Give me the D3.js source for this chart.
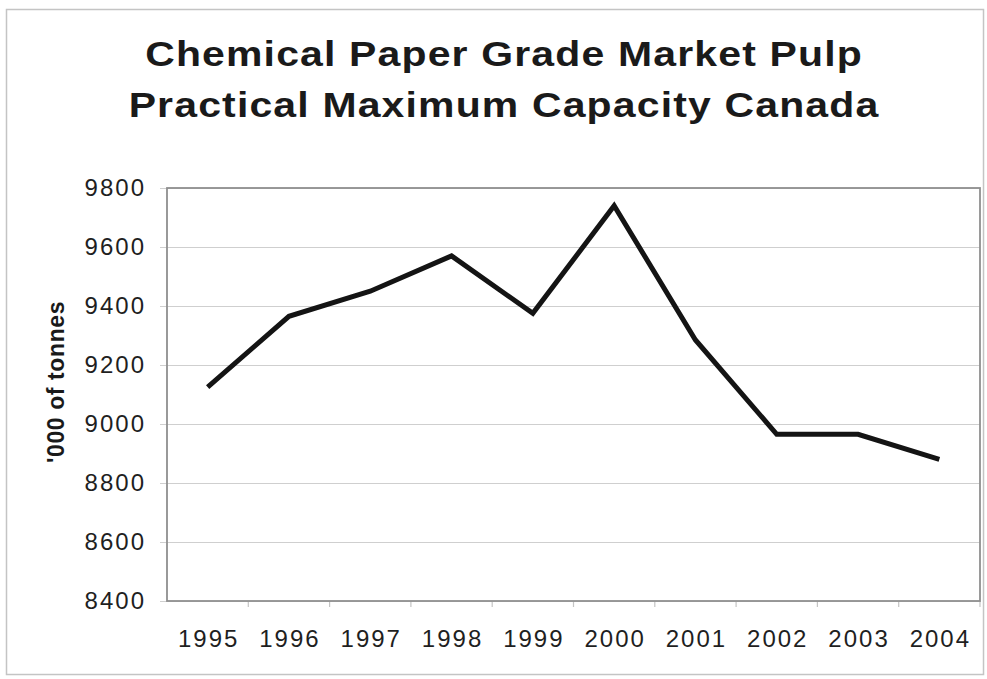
<!DOCTYPE html>
<html>
<head>
<meta charset="utf-8">
<script src="https://cdn.jsdelivr.net/npm/d3@7"></script>
<style>
  html, body { margin: 0; padding: 0; background: #ffffff; }
  svg { display: block; }
</style>
</head>
<body>
<div id="chart"></div>
<script>
// Chart content
const titleLines = ["Chemical Paper Grade Market Pulp", "Practical Maximum Capacity Canada"];
const yAxisTitle = "'000 of tonnes";
const years = ["1995", "1996", "1997", "1998", "1999", "2000", "2001", "2002", "2003", "2004"];
const capacity = [9125, 9365, 9450, 9570, 9375, 9740, 9285, 8965, 8965, 8880];
const yTicks = [8400, 8600, 8800, 9000, 9200, 9400, 9600, 9800];

const W = 987, H = 679;
const plot = { left: 167, right: 980, top: 188, bottom: 601 };
const fontFamily = "'Liberation Sans', Arial, Helvetica, sans-serif";

const svg = d3.select("#chart").append("svg")
  .attr("width", W).attr("height", H);

// outer frame
svg.append("rect")
  .attr("x", 6.5).attr("y", 9.5)
  .attr("width", 977).attr("height", 665)
  .attr("fill", "#ffffff")
  .attr("stroke", "#c4c4c4").attr("stroke-width", 1.5);

const x = d3.scaleBand().domain(years).range([plot.left, plot.right]).padding(0);
const y = d3.scaleLinear().domain([8400, 9800]).range([plot.bottom, plot.top]);

// title, set in a slightly widened bold face
svg.append("g")
  .attr("transform", "translate(504,66) scale(1.17,1)")
  .append("text")
  .attr("text-anchor", "middle")
  .style("font-family", fontFamily)
  .style("font-weight", "bold")
  .style("font-size", "35px")
  .style("letter-spacing", "1px")
  .attr("fill", "#1a1a1a")
  .selectAll("tspan").data(titleLines).join("tspan")
  .attr("x", 0)
  .attr("dy", (d, i) => i === 0 ? 0 : 51)
  .text(d => d);

// value axis: gridlines that start at a short outside tick mark
const yAxis = d3.axisLeft(y).tickValues(yTicks)
  .tickSize(0)
  .tickPadding(20)
  .tickFormat(d3.format("d"));

const gy = svg.append("g")
  .attr("transform", `translate(${plot.left - 7},0)`)
  .call(yAxis);
gy.select(".domain").remove();
gy.selectAll(".tick line")
  .attr("x1", 0).attr("x2", plot.right - plot.left + 7)
  .attr("stroke", "#cfcfcf").attr("stroke-width", 1.2);
gy.selectAll(".tick text")
  .attr("x", -14)
  .style("font-family", fontFamily)
  .style("font-size", "24px")
  .style("letter-spacing", "2px")
  .attr("fill", "#1f1f1f");

// category axis: tick marks at band boundaries, labels at band centres
const gx = svg.append("g")
  .attr("transform", `translate(0,${plot.bottom})`);
gx.selectAll("line.btick")
  .data(years)
  .join("line")
  .attr("class", "btick")
  .attr("x1", d => x(d) + x.bandwidth())
  .attr("x2", d => x(d) + x.bandwidth())
  .attr("y1", 0).attr("y2", 6)
  .attr("stroke", "#c4c4c4").attr("stroke-width", 1.2);
gx.selectAll("text.year")
  .data(years).join("text")
  .attr("class", "year")
  .attr("x", d => x(d) + x.bandwidth() / 2 + 1)
  .attr("y", 46)
  .attr("text-anchor", "middle")
  .style("font-family", fontFamily)
  .style("font-size", "24px")
  .style("letter-spacing", "2px")
  .attr("fill", "#1f1f1f")
  .text(d => d);

// plot border
svg.append("rect")
  .attr("x", plot.left).attr("y", plot.top)
  .attr("width", plot.right - plot.left).attr("height", plot.bottom - plot.top)
  .attr("fill", "none")
  .attr("stroke", "#8f8f8f").attr("stroke-width", 1.8);

// y axis title
svg.append("text")
  .attr("transform", "translate(64,382) rotate(-90)")
  .attr("text-anchor", "middle")
  .style("font-family", fontFamily)
  .style("font-weight", "bold")
  .style("font-size", "23px")
  .style("letter-spacing", "0.6px")
  .attr("fill", "#1a1a1a")
  .text(yAxisTitle);

// capacity line
const line = d3.line()
  .x((d, i) => x(years[i]) + x.bandwidth() / 2)
  .y(d => y(d));

svg.append("path")
  .datum(capacity)
  .attr("d", line)
  .attr("fill", "none")
  .attr("stroke", "#141414")
  .attr("stroke-width", 5)
  .attr("stroke-linejoin", "miter")
  .attr("stroke-linecap", "butt");
</script>
</body>
</html>
